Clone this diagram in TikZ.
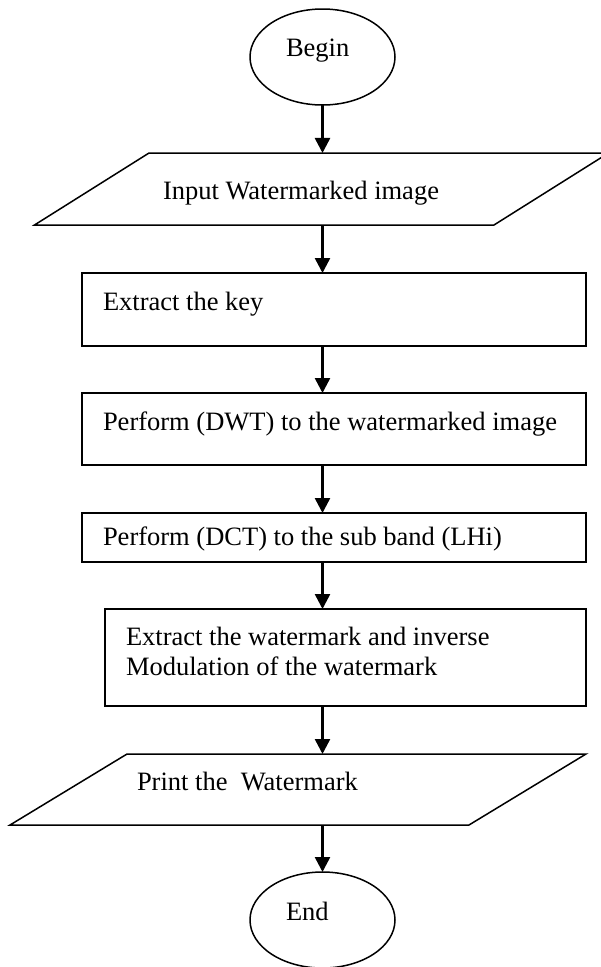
\documentclass[tikz,border=0pt]{standalone}
\usepackage{fontspec}
\setmainfont{Liberation Serif}
\usetikzlibrary{shapes.geometric,arrows.meta}

\tikzset{
  shapeline/.style={draw=black, line width=1.5pt, inner sep=0pt, outer sep=0pt},
  terminal/.style={shapeline, ellipse, minimum width=145pt, minimum height=96pt},
  stepbox/.style={shapeline, rectangle},
  iobox/.style={shapeline, trapezium, trapezium stretches body, inner xsep=0pt},
  label/.style={inner sep=0pt, outer sep=0pt, anchor=base west,
                font=\fontsize{26.5}{30}\selectfont},
  flow/.style={line width=2.5pt, -{Triangle[width=15pt,length=15pt]}}
}

\begin{document}
\begin{tikzpicture}[x=1pt, y=-1pt]
  \useasboundingbox (0,0) rectangle (601,967);

  % start and end terminals
  \node[terminal] (begin) at (322.5,57) {};
  \node[label] (tbegin) at (286,56) {Begin};

  % input parallelogram
  \node[iobox, inner ysep=36pt, trapezium left angle=32.16, trapezium right angle=147.84,
        minimum width=574pt] (input) at (321.5,189) {};
  \node[label] (tinput) at (163,199) {Input Watermarked image};

  % processing steps
  \node[stepbox, minimum width=504pt, minimum height=73pt] (key) at (334,309.5) {};
  \node[label] (tkey) at (103,310) {Extract the key};

  \node[stepbox, minimum width=504pt, minimum height=72pt] (dwt) at (334,429) {};
  \node[label] (tdwt) at (103,430) {Perform (DWT) to the watermarked image};

  \node[stepbox, minimum width=504pt, minimum height=49pt] (dct) at (334,537.5) {};
  \node[label] (tdct) at (103,545) {Perform (DCT) to the sub band (LHi)};

  \node[stepbox, minimum width=481pt, minimum height=97pt] (extract) at (345.5,657.5) {};
  \node[label] (textract1) at (126,645) {Extract the watermark and inverse};
  \node[label] (textract2) at (126,675) {Modulation of the watermark};

  % output parallelogram
  \node[iobox, inner ysep=35.5pt, trapezium left angle=31.25, trapezium right angle=148.75,
        minimum width=576pt] (print) at (298,789.5) {};
  \node[label] (tprint) at (137,790) {Print the~~Watermark};

  \node[terminal] (end) at (322.5,920) {};
  \node[label] (tend) at (286,920) {End};

  % connectors
  \draw[flow] (begin.south) -- (begin.south |- input.north);
  \draw[flow] (begin.south |- input.south) -- (begin.south |- key.north);
  \draw[flow] (begin.south |- key.south) -- (begin.south |- dwt.north);
  \draw[flow] (begin.south |- dwt.south) -- (begin.south |- dct.north);
  \draw[flow] (begin.south |- dct.south) -- (begin.south |- extract.north);
  \draw[flow] (begin.south |- extract.south) -- (begin.south |- print.north);
  \draw[flow] (begin.south |- print.south) -- (end.north);
\end{tikzpicture}
\end{document}
